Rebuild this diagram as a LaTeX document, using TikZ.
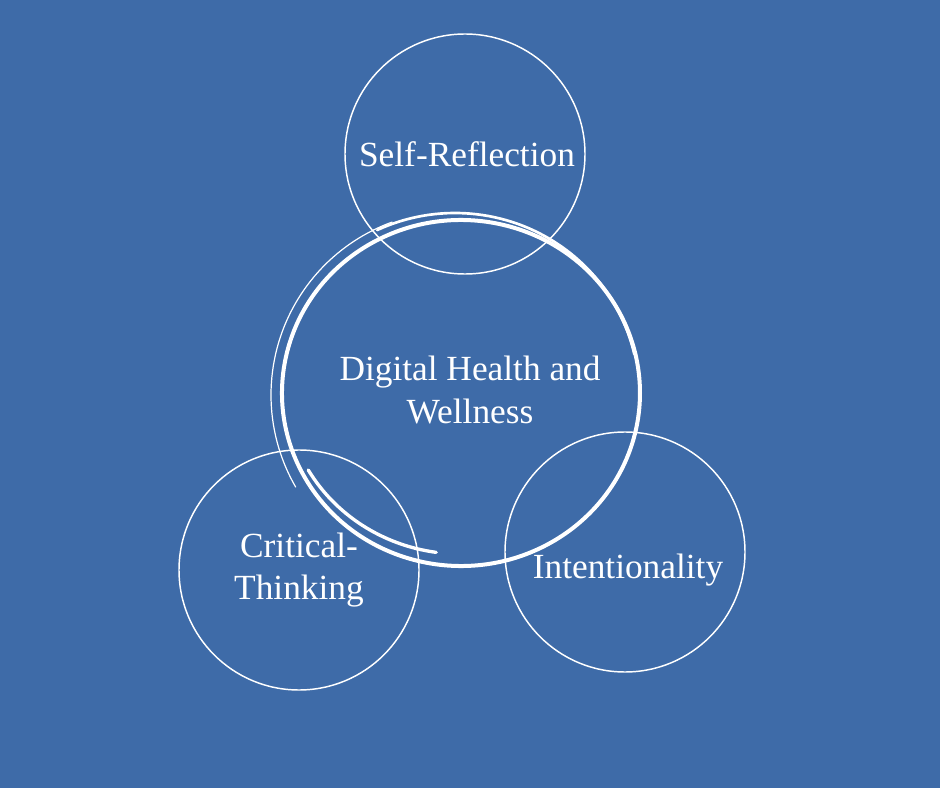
\documentclass[tikz,border=0pt]{standalone}
\usepackage{fontspec}
\setmainfont{Liberation Serif}
\usepackage{tikz}
\definecolor{bgblue}{HTML}{3E6BA8}
\tikzset{
  ring/.style={circle,draw=white,line width=1.1pt,minimum size=180pt,inner sep=0pt},
  lbl/.style={text=white,font=\fontsize{26.5}{32}\selectfont,align=center,inner sep=0pt},
  stroke/.style={draw=white,line cap=round}
}

\begin{document}
\begin{tikzpicture}[x=0.75pt,y=-0.75pt]
\fill[bgblue] (0,0) rectangle (940,788);
% three outer circles
\node[ring] (selfring) at (465,154) {};
\node[ring] (critring) at (299,570) {};
\node[ring] (intring) at (625,552) {};
% scribbled middle circle
\coordinate (mida) at (461,393);
\coordinate (midb) at (455,395);
\coordinate (midc) at (459,388);
\coordinate (midd) at (460,386);
\draw[stroke,line width=3pt] (mida) ++(60:179 and 173) arc[start angle=60,end angle=430,x radius=179,y radius=173];
\draw[stroke,line width=2.5pt] (midd) ++(98:171 and 168) arc[start angle=98,end angle=150,x radius=176,y radius=168];
\draw[stroke,line width=0.9pt] (midb) ++(150:184) arc[start angle=150,end angle=250,radius=184];
\draw[stroke,line width=2pt] (midb) ++(245:184 and 182) arc[start angle=245,end angle=347,x radius=184,y radius=182];
\draw[stroke,line width=1.5pt] (midc) ++(112:178) arc[start angle=112,end angle=152,radius=178];
% labels
\node[lbl] (selftxt) at (467,154) {Self-Reflection};
\node[lbl] (crittxt) at (299,570) {Critical-\\Thinking};
\node[lbl] (inttxt) at (628,570) {Intentionality};
\node[lbl] (midtxt) at (470,390) {Digital Health and\\Wellness};
\end{tikzpicture}
\end{document}
